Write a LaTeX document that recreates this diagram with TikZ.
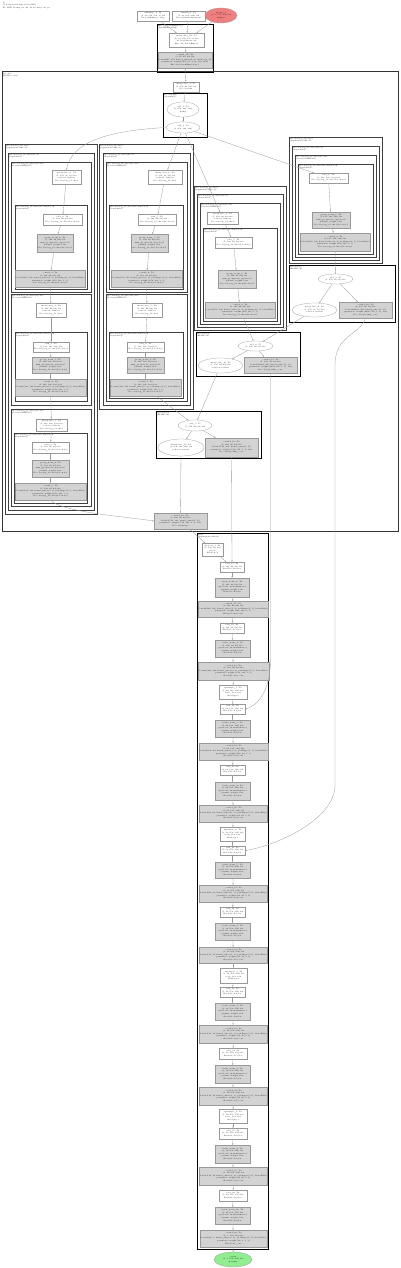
\documentclass[tikz,border=0pt]{standalone}
\usepackage{fontspec}
\setmainfont{Latin Modern Roman}
\usetikzlibrary{shapes.geometric,arrows.meta}
\definecolor{ngray}{HTML}{D3D3D3}
\definecolor{nred}{HTML}{F08080}
\definecolor{ngreen}{HTML}{90EE90}
\tikzset{
 ft/.style={font=\fontsize{1.75}{2.55}\selectfont},
 nb/.style={ft, draw=black!40, line width=0.25pt, inner sep=0.4pt, align=center},
 wbox/.style={nb, rectangle, fill=white},
 gbox/.style={nb, rectangle, fill=ngray},
 ell/.style={nb, ellipse, fill=white, inner sep=0pt},
 inell/.style={ell, fill=nred},
 outell/.style={ell, fill=ngreen},
 edg/.style={draw=black!40, line width=0.3pt, -{Stealth[length=1.6pt,width=1.3pt]}},
 thk/.style={draw=black, line width=0.9pt},
 thn/.style={draw=black!75, line width=0.45pt},
 mcl/.style={draw=black!80, line width=1pt},
 clab/.style={ft, anchor=north west, align=left, inner sep=0.6pt},
}
\newcommand\bx[6]{\node[#1,minimum width=#4pt,minimum height=#5pt] (#2) at (#3) {#6};}
\newcommand\clu[5]{\draw[#1] (#2) rectangle (#3); \node[clab] (#4) at (#2) {#5};}
\newcommand\Tint[3]{interpolate\_#1: T0\\(1, #2) f32\\scale=2, bilinear\\#3}
\newcommand\Trelu[3]{relu\_#1: T0\\(1, #2) f32\\#3}
\newcommand\Tgn[3]{group\_norm\_#1: T0\\(1, #2) f32\\num\_groups=32, eps=1e-05\\params: weight, bias\\#3}
\newcommand\Tconv[4]{conv2d\_#1: T0\\(1, #2) f32\\Conv2d(#3, kernel\_size=(3, 3), padding=(1, 1), bias=False)\\parameter: weight (#3, 3, 3)\\#4}
\newcommand\Tpc[4]{conv2d\_#1: T0\\(1, #2) f32\\Conv2d(#3, kernel\_size=(1, 1))\\parameter: weight (#3, 1, 1), bias\\#4}
\newcommand\Tbn[3]{batch\_norm\_#1: T0\\(1, #2) f32\\eps=1e-05, momentum=0.1\\params: weight, bias\\#3}
\newcommand\Tup[3]{upsample\_#1: T0\\(1, #2) f32\\scale\_factor=2\\#3}
\begin{document}
\begin{tikzpicture}[x=1pt,y=-1pt]
\useasboundingbox (0,0) rectangle (400,1268);
% ---------- clusters ----------
\clu{thk}{157,24}{213,72}{lpe}{Encoder/PatchEmbed\_1\\(PatchEmbedding)}
\clu{mcl}{2,72}{398,531}{lm}{Decoder\\(FPNDecoder)}
\clu{thk}{163,93}{207,137}{lt}{Decoder/fpn\\(Upsample)}
% A
\clu{thn}{5,144}{97,514}{la}{Decoder/seg\_blocks.0\\(SegmentationBlock)}
\clu{thn}{8,153}{94,510}{laa}{Decoder/seg\_blocks.0/block\\(Sequential)}
\clu{thn}{11,162}{91,292}{lab0}{Decoder/seg\_blocks.0/block.0\\(Conv3x3GNReLU)}
\clu{thn}{15,205}{87,289}{lab0s}{Decoder/seg\_blocks.0/block.0/block\\(Sequential)}
\clu{thn}{11,294}{91,405}{lab1}{Decoder/seg\_blocks.0/block.1\\(Conv3x3GNReLU)}
\clu{thn}{15,332}{87,401}{lab1s}{Decoder/seg\_blocks.0/block.1/block\\(Sequential)}
\clu{thn}{11,409}{91,506}{lab2}{Decoder/seg\_blocks.0/block.2\\(Conv3x3GNReLU)}
\clu{thn}{14,433}{87,503}{lab2s}{Decoder/seg\_blocks.0/block.2/block\\(Sequential)}
% B
\clu{thn}{99,144}{193,409}{lb}{Decoder/seg\_blocks.1\\(SegmentationBlock)}
\clu{thn}{103,153}{190,405}{lbb}{Decoder/seg\_blocks.1/block\\(Sequential)}
\clu{thn}{106,162}{187,292}{lbb0}{Decoder/seg\_blocks.1/block.0\\(Conv3x3GNReLU)}
\clu{thn}{109,205}{183,289}{lbb0s}{Decoder/seg\_blocks.1/block.0/block\\(Sequential)}
\clu{thn}{106,294}{187,401}{lbb1}{Decoder/seg\_blocks.1/block.1\\(Conv3x3GNReLU)}
\clu{thn}{109,332}{183,398}{lbb1s}{Decoder/seg\_blocks.1/block.1/block\\(Sequential)}
% C
\clu{thn}{194,186}{286,330}{lc}{Decoder/seg\_blocks.2\\(SegmentationBlock)}
\clu{thn}{197,194}{283,327}{lcc}{Decoder/seg\_blocks.2/block\\(Sequential)}
\clu{thn}{200,203}{280,324}{lcc0}{Decoder/seg\_blocks.2/block.0\\(Conv3x3GNReLU)}
\clu{thn}{203,228}{277,321}{lcc0s}{Decoder/seg\_blocks.2/block.0/block\\(Sequential)}
% F
\clu{thn}{289,137}{382,263}{lf}{Decoder/seg\_blocks.3\\(SegmentationBlock)}
\clu{thn}{292,146}{379,260}{lff}{Decoder/seg\_blocks.3/block\\(Sequential)}
\clu{thn}{295,155}{376,257}{lff0}{Decoder/seg\_blocks.3/block.0\\(Conv3x3GNReLU)}
\clu{thn}{298,164}{373,254}{lff0s}{Decoder/seg\_blocks.3/block.0/block\\(Sequential)}
% D E G L
\clu{thk}{289,265}{395,322}{lg}{Decoder/p5\\(FPNBlock)}
\clu{thk}{196,332}{300,376}{ld}{Decoder/p4\\(FPNBlock)}
\clu{thk}{156,411}{261,458}{le}{Decoder/p3\\(FPNBlock)}
\clu{thk}{197,533}{268,1249}{ll}{Head\\(SegmentationHead)}
% ---------- header ----------
\node[clab] (hdr) at (2,1) {G\\(1 Compressed-unit 1231.4 KB)\\ID: WFC Transposer 1D, 61 modules, 42 ops};
% ---------- top ----------
\bx{wbox}{t1}{153,16}{32}{10}{pfmfmap\_1: T0\\(1, 32, 256, 256, 2) f32\\Unet/pfmfmap/contig}
\bx{wbox}{t2}{188.5,16}{33}{10}{dtmask\_1: T0\\(1, 32, 256, 256) f32\\Unet/dtmask/unsqueeze}
\bx{inell}{tin}{221,15.5}{32}{15}{images\_1\\(1, 3, 256, 256) f32\\\#input}
\bx{wbox}{pe1}{186.5,40}{35}{14}{interpolate\_1D: T7\\(1, 32, 256, 256, 2) f32\\mode=bilinear, x4\\Encoder/PatchEmbed}
\bx{gbox}{pe2}{185,60}{52}{16}{conv2d\_1D: T4\\(1, 67, 64, 64) f32\\Conv2d(67, 256, kernel\_size=(4, 4), stride=(4, 4))\\parameter: weight (256, 67, 4, 4), bias (256)\\Encoder/PatchEmbed/proj}
\bx{wbox}{i1}{186,87}{26}{10}{interpolate\_1: T5\\(1, 256, 64, 64) f32\\Decoder/fpn}
\bx{ell}{e1}{183,109.5}{32}{15}{add\_1: T8\\(1, 256, 128, 128)\\\#skip}
\bx{ell}{e2}{183,127.5}{34}{11}{add\_2: T8\\(1, 256, 128, 128)}
% ---------- A ----------
\bx{wbox}{a0i}{66.5,177}{29}{14}{\Tint{3}{256, 32, 32}{Decoder/seg\_blocks.0}}
\bx{wbox}{a0r}{62.5,219.5}{39}{11}{\Trelu{2}{128, 64, 64}{Decoder/seg\_blocks.0/block.0/2}}
\bx{gbox}{a0g}{55,243}{36}{18}{\Tgn{2}{128, 64, 64}{Decoder/seg\_blocks.0/block.0/1}}
\bx{gbox}{a0c}{50,278.5}{66}{17}{\Tconv{3}{128, 64, 64}{256, 128}{Decoder/seg\_blocks.0/block.0/0}}
\bx{wbox}{a1i}{51,310}{30}{14}{\Tint{4}{128, 64, 64}{Decoder/seg\_blocks.0}}
\bx{wbox}{a1r}{51,347}{36}{10}{\Trelu{3}{128, 128, 128}{Decoder/seg\_blocks.0/block.1/2}}
\bx{gbox}{a1g}{50.5,365}{37}{16}{\Tgn{3}{128, 128, 128}{Decoder/seg\_blocks.0/block.1/1}}
\bx{gbox}{a1c}{50.5,387.5}{67}{17}{\Tconv{4}{128, 128, 128}{128, 128}{Decoder/seg\_blocks.0/block.1/0}}
\bx{wbox}{a2i}{51.5,425}{31}{12}{\Tint{5}{128, 128, 128}{Decoder/seg\_blocks.0}}
\bx{wbox}{a2r}{50.5,447.5}{37}{11}{\Trelu{4}{128, 64, 64}{Decoder/seg\_blocks.0/block.2/2}}
\bx{gbox}{a2g}{50.5,468.5}{37}{17}{\Tgn{4}{128, 64, 64}{Decoder/seg\_blocks.0/block.2/1}}
\bx{gbox}{a2c}{50.5,491.5}{67}{17}{\Tconv{5}{128, 64, 64}{128, 128}{Decoder/seg\_blocks.0/block.2/0}}
% ---------- B ----------
\bx{wbox}{b0i}{165,177}{34}{14}{\Tint{6}{256, 32, 32}{Decoder/seg\_blocks.1}}
\bx{wbox}{b0r}{157,219.5}{38}{11}{\Trelu{5}{128, 64, 64}{Decoder/seg\_blocks.1/block.0/2}}
\bx{gbox}{b0g}{149.5,243}{37}{18}{\Tgn{5}{128, 64, 64}{Decoder/seg\_blocks.1/block.0/1}}
\bx{gbox}{b0c}{146.5,278.5}{67}{17}{\Tconv{6}{128, 64, 64}{256, 128}{Decoder/seg\_blocks.1/block.0/0}}
\bx{wbox}{b1i}{147,310}{30}{14}{\Tint{7}{128, 64, 64}{Decoder/seg\_blocks.1}}
\bx{wbox}{b1r}{145.5,347}{37}{10}{\Trelu{6}{128, 128, 128}{Decoder/seg\_blocks.1/block.1/2}}
\bx{gbox}{b1g}{145.5,365}{37}{16}{\Tgn{6}{128, 128, 128}{Decoder/seg\_blocks.1/block.1/1}}
\bx{gbox}{b1c}{145.5,387.5}{67}{17}{\Tconv{7}{128, 128, 128}{128, 128}{Decoder/seg\_blocks.1/block.1/0}}
% ---------- C ----------
\bx{wbox}{ci}{222.5,218}{31}{12}{\Tint{8}{256, 64, 64}{Decoder/seg\_blocks.2}}
\bx{wbox}{cr}{233.5,242.5}{37}{11}{\Trelu{7}{128, 64, 64}{Decoder/seg\_blocks.2/block.0/2}}
\bx{gbox}{cg}{237,279}{38}{18}{\Tgn{7}{128, 64, 64}{Decoder/seg\_blocks.2/block.0/1}}
\bx{gbox}{cc}{240,310}{66}{16}{\Tconv{8}{128, 64, 64}{256, 128}{Decoder/seg\_blocks.2/block.0/0}}
% ---------- F ----------
\bx{wbox}{fi}{328.5,178}{39}{10}{\Trelu{8}{128, 128, 128}{Decoder/seg\_blocks.3/block.0/2}}
\bx{gbox}{fg}{331,220}{38}{16}{\Tgn{8}{128, 128, 128}{Decoder/seg\_blocks.3/block.0/1}}
\bx{gbox}{fc}{335,242}{66}{18}{\Tconv{9}{128, 128, 128}{256, 128}{Decoder/seg\_blocks.3/block.0/0}}
% ---------- G D E ----------
\bx{ell}{gadd}{335.5,279}{35}{10}{add\_3: T5\\(1, 256, 16, 16) f32}
\bx{ell}{gint}{314.5,310}{45}{14}{interpolate\_9: T0\\(1, 256, 32, 32) f32\\scale=2, nearest}
\bx{gbox}{gconv}{365.5,310}{53}{16}{\Tpc{10}{256, 16, 16}{2048, 256}{Decoder/p5/skip\_conv}}
\bx{ell}{dadd}{255.5,346}{35}{10}{add\_4: T5\\(1, 256, 32, 32) f32}
\bx{ell}{dint}{220.5,365.5}{45}{15}{interpolate\_10: T0\\(1, 256, 64, 64) f32\\scale=2, nearest}
\bx{gbox}{dconv}{270.5,365}{53}{16}{\Tpc{11}{256, 32, 32}{1024, 256}{Decoder/p4/skip\_conv}}
\bx{ell}{eadd}{195,425.5}{34}{11}{add\_5: T5\\(1, 256, 64, 64) f32}
\bx{ell}{eint}{181,447.5}{46}{17}{interpolate\_11: T0\\(1, 256, 128, 128) f32\\scale=2, nearest}
\bx{gbox}{econv}{231.5,447.5}{53}{19}{\Tpc{12}{256, 64, 64}{512, 256}{Decoder/p3/skip\_conv}}
\bx{gbox}{mconv}{180.5,521}{53}{16}{\Tpc{16}{128, 64, 64}{512, 128}{Decoder/merge}}
% ---------- lower column ----------
\bx{wbox}{l1}{212.5,549.5}{21}{13}{dropout\_1: T0\\(1, 128, 64, 64)\\p=0.1\\Head/drop}
\bx{wbox}{l2}{232,567}{24}{10}{\Trelu{17}{128, 64, 64}{Head/block.0/act}}
\bx{gbox}{l3}{232,587.5}{34}{19}{\Tbn{1}{128, 64, 64}{Head/block.0/bn}}
\bx{gbox}{l4}{233,609}{66}{16}{\Tconv{17}{128, 64, 64}{128, 128}{Head/block.0/conv}}
\bx{wbox}{l5}{232,628}{24}{10}{\Trelu{18}{128, 64, 64}{Head/block.1/act}}
\bx{gbox}{l6}{232.5,648.5}{35}{17}{\Tbn{2}{128, 64, 64}{Head/block.1/bn}}
\bx{gbox}{l7}{233.5,671}{67}{18}{\Tconv{18}{128, 64, 64}{128, 128}{Head/block.1/conv}}
\bx{wbox}{l8}{233,692}{28}{14}{\Tup{1}{64, 128, 128}{Head/up.0}}
\bx{wbox}{l9}{232.5,709}{25}{10}{\Trelu{19}{64, 128, 128}{Head/block.2/act}}
\bx{gbox}{l10}{232.5,728.5}{35}{17}{\Tbn{3}{64, 128, 128}{Head/block.2/bn}}
\bx{gbox}{l11}{233.5,751.5}{67}{17}{\Tconv{19}{64, 128, 128}{128, 64}{Head/block.2/conv}}
\bx{wbox}{l12}{232.5,770}{25}{10}{\Trelu{20}{64, 128, 128}{Head/block.3/act}}
\bx{gbox}{l13}{232.5,791}{35}{18}{\Tbn{4}{64, 128, 128}{Head/block.3/bn}}
\bx{gbox}{l14}{233.5,813.5}{67}{17}{\Tconv{20}{64, 128, 128}{64, 64}{Head/block.3/conv}}
\bx{wbox}{l15}{232.5,834}{25}{14}{\Tup{2}{32, 256, 256}{Head/up.1}}
\bx{wbox}{l16}{232.5,850.5}{25}{9}{\Trelu{21}{32, 256, 256}{Head/block.4/act}}
\bx{gbox}{l17}{232.5,870}{35}{16}{\Tbn{5}{32, 256, 256}{Head/block.4/bn}}
\bx{gbox}{l18}{233.5,893.5}{67}{17}{\Tconv{21}{32, 256, 256}{64, 32}{Head/block.4/conv}}
\bx{wbox}{l19}{232.5,912}{25}{10}{\Trelu{22}{32, 256, 256}{Head/block.5/act}}
\bx{gbox}{l20}{232.5,931.5}{35}{17}{\Tbn{6}{32, 256, 256}{Head/block.5/bn}}
\bx{gbox}{l21}{233.5,955}{67}{16}{\Tconv{22}{32, 256, 256}{32, 32}{Head/block.5/conv}}
\bx{wbox}{l22}{233.5,975.5}{27}{15}{\Tup{3}{32, 256, 256}{Head/up.2}}
\bx{wbox}{l23}{232.5,992}{25}{10}{\Trelu{23}{32, 256, 256}{Head/block.6/act}}
\bx{gbox}{l24}{232.5,1011.5}{35}{17}{\Tbn{7}{32, 256, 256}{Head/block.6/bn}}
\bx{gbox}{l25}{233.5,1034}{67}{18}{\Tconv{23}{16, 256, 256}{32, 16}{Head/block.6/conv}}
\bx{wbox}{l26}{233,1053.5}{28}{11}{\Trelu{24}{16, 256, 256}{Head/block.7/act}}
\bx{gbox}{l27}{232.5,1074}{35}{18}{\Tbn{8}{16, 256, 256}{Head/block.7/bn}}
\bx{gbox}{l28}{233.5,1096}{67}{18}{\Tconv{24}{16, 256, 256}{16, 16}{Head/block.7/conv}}
\bx{wbox}{l29}{233,1116}{28}{14}{\Tup{4}{16, 256, 256}{Head/up.3}}
\bx{wbox}{l30}{233,1133.5}{28}{11}{\Trelu{25}{16, 256, 256}{Head/block.8/act}}
\bx{gbox}{l31}{232.5,1154}{35}{18}{\Tbn{9}{16, 256, 256}{Head/block.8/bn}}
\bx{gbox}{l32}{233.5,1176}{67}{18}{\Tconv{25}{16, 256, 256}{16, 16}{Head/block.8/conv}}
\bx{wbox}{l33}{233,1195.5}{28}{11}{\Trelu{26}{16, 256, 256}{Head/block.9/act}}
\bx{gbox}{l34}{232.5,1215.5}{35}{17}{\Tbn{10}{16, 256, 256}{Head/block.9/bn}}
\bx{gbox}{l35}{233.5,1238.5}{67}{17}{\Tconv{26}{1, 256, 256}{16, 1}{Head/out\_conv}}
\bx{outell}{out}{233,1259.5}{38}{15}{output\\(1, 1, 256, 256) f32\\\#output}
% ---------- edges ----------
\foreach \u/\v in {t1/pe1,t2/pe1,tin/pe1,pe1/pe2,pe2/i1,i1/e1,e1/e2,e2/b0i,e2/ci,e2/fi,
  a0i/a0r,a0r/a0g,a0g/a0c,a0c/a1i,a1i/a1r,a1r/a1g,a1g/a1c,a1c/a2i,a2i/a2r,a2r/a2g,a2g/a2c,
  b0i/b0r,b0r/b0g,b0g/b0c,b0c/b1i,b1i/b1r,b1r/b1g,b1g/b1c,b1c/eadd,
  ci/cr,cr/cg,cg/cc,cc/dadd,fi/fg,fg/fc,fc/gadd,
  gadd/gint,gadd/gconv,gint/dadd,dadd/dint,dadd/dconv,dint/eadd,eadd/eint,eadd/econv,
  eint/mconv,econv/l2,mconv/l1,l35/out}
  \draw[edg] (\u) -- (\v);
\foreach \i [evaluate=\i as \j using int(\i+1)] in {1,...,34}
  \draw[edg] (l\i) -- (l\j);
\draw[edg] (e2.west) .. controls (120,130) and (72,138) .. (a0i.north);
\draw[edg] (a2c.south) .. controls (62,512) and (120,516) .. (mconv.west);
\draw[edg] (dconv.south) -- (270.5,660) .. controls (270.5,690) and (258,706) .. (l9.east);
\draw[edg] (gconv.south) .. controls (360,335) and (335,335) .. (335,365) -- (335,785) .. controls (335,820) and (275,846) .. (l16.east);
\end{tikzpicture}
\end{document}
